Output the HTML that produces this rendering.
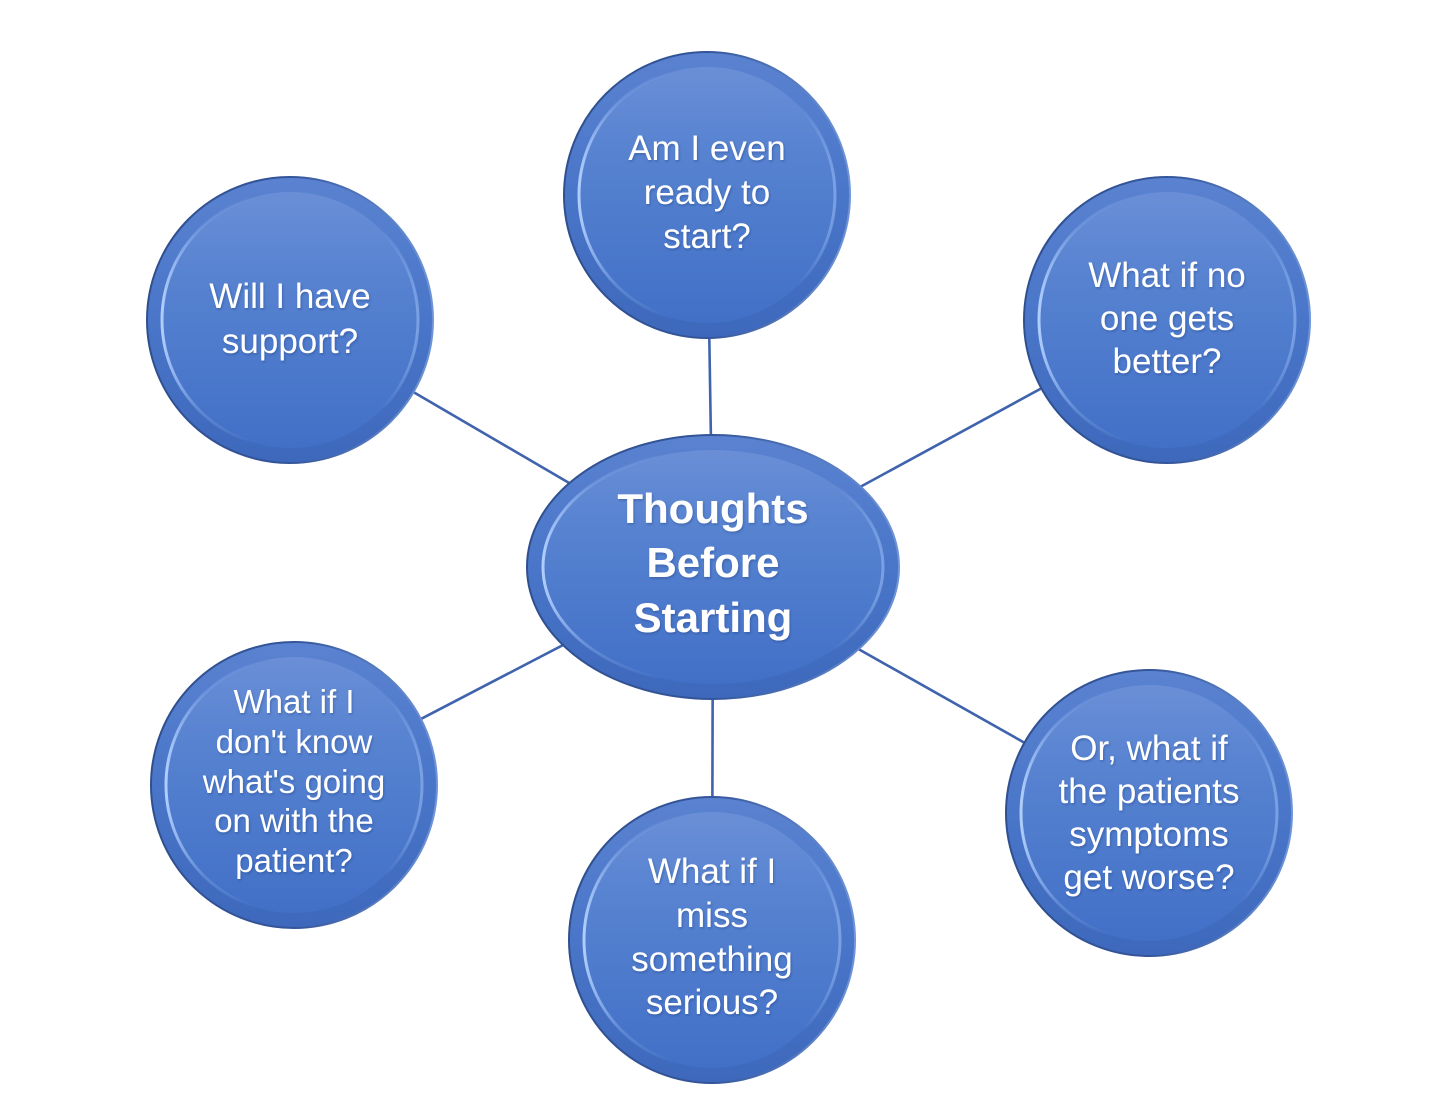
<!DOCTYPE html>
<html>
<head>
<meta charset="utf-8">
<style>
  html, body { margin: 0; padding: 0; background: #ffffff; }
  svg { display: block; }
  text { font-family: "Liberation Sans", Arial, sans-serif; fill: #ffffff; text-anchor: middle; }
</style>
</head>
<body>
<svg width="1430" height="1120" viewBox="0 0 1430 1120" xmlns="http://www.w3.org/2000/svg">
  <defs>
    <linearGradient id="outerG" x1="0" y1="0" x2="0" y2="1">
      <stop offset="0" stop-color="#5a82d0"/>
      <stop offset="0.5" stop-color="#4a76c9"/>
      <stop offset="1" stop-color="#3d68bb"/>
    </linearGradient>
    <linearGradient id="innerG" x1="0" y1="0" x2="0" y2="1">
      <stop offset="0" stop-color="#6a8fd7"/>
      <stop offset="0.35" stop-color="#5682d0"/>
      <stop offset="1" stop-color="#4270c7"/>
    </linearGradient>
    <linearGradient id="hlG" x1="0" y1="0" x2="1" y2="0">
      <stop offset="0" stop-color="#b4d2ff" stop-opacity="0.95"/>
      <stop offset="0.15" stop-color="#8cb0ee" stop-opacity="0.35"/>
      <stop offset="0.35" stop-color="#8cb0ee" stop-opacity="0"/>
      <stop offset="0.85" stop-color="#8cb0ee" stop-opacity="0"/>
      <stop offset="1" stop-color="#9cc0f5" stop-opacity="0.55"/>
    </linearGradient>
    <linearGradient id="edgeG" x1="0" y1="0" x2="1" y2="0">
      <stop offset="0" stop-color="#2f4f8e"/>
      <stop offset="0.5" stop-color="#34559a"/>
      <stop offset="1" stop-color="#6f95d8"/>
    </linearGradient>
    <filter id="ts" x="-10%" y="-10%" width="120%" height="130%">
      <feDropShadow dx="1" dy="1.5" stdDeviation="1" flood-color="#1d3570" flood-opacity="0.35"/>
    </filter>
  </defs>

  <!-- connectors -->
  <g stroke="#3f63ad" stroke-width="2.6" fill="none">
    <line x1="713" y1="567" x2="707" y2="195"/>
    <line x1="713" y1="567" x2="290" y2="320"/>
    <line x1="713" y1="567" x2="1167" y2="320"/>
    <line x1="713" y1="567" x2="294" y2="785"/>
    <line x1="713" y1="567" x2="712" y2="940"/>
    <line x1="713" y1="567" x2="1149" y2="813"/>
  </g>

  <!-- Top node -->
  <g>
    <circle cx="707" cy="195" r="143" fill="url(#outerG)" stroke="url(#edgeG)" stroke-width="2"/>
    <circle cx="707" cy="195" r="128" fill="url(#innerG)" stroke="url(#hlG)" stroke-width="3"/>
    <text font-size="35" filter="url(#ts)"><tspan x="707" y="160">Am I even</tspan><tspan x="707" y="204">ready to</tspan><tspan x="707" y="248">start?</tspan></text>
  </g>

  <!-- Top-left node -->
  <g>
    <circle cx="290" cy="320" r="143" fill="url(#outerG)" stroke="url(#edgeG)" stroke-width="2"/>
    <circle cx="290" cy="320" r="128" fill="url(#innerG)" stroke="url(#hlG)" stroke-width="3"/>
    <text font-size="35" filter="url(#ts)"><tspan x="290" y="308">Will I have</tspan><tspan x="290" y="353">support?</tspan></text>
  </g>

  <!-- Top-right node -->
  <g>
    <circle cx="1167" cy="320" r="143" fill="url(#outerG)" stroke="url(#edgeG)" stroke-width="2"/>
    <circle cx="1167" cy="320" r="128" fill="url(#innerG)" stroke="url(#hlG)" stroke-width="3"/>
    <text font-size="35" filter="url(#ts)"><tspan x="1167" y="287">What if no</tspan><tspan x="1167" y="330">one gets</tspan><tspan x="1167" y="373">better?</tspan></text>
  </g>

  <!-- Bottom-left node -->
  <g>
    <circle cx="294" cy="785" r="143" fill="url(#outerG)" stroke="url(#edgeG)" stroke-width="2"/>
    <circle cx="294" cy="785" r="128" fill="url(#innerG)" stroke="url(#hlG)" stroke-width="3"/>
    <text font-size="33" filter="url(#ts)"><tspan x="294" y="713">What if I</tspan><tspan x="294" y="753">don't know</tspan><tspan x="294" y="793">what's going</tspan><tspan x="294" y="832">on with the</tspan><tspan x="294" y="872">patient?</tspan></text>
  </g>

  <!-- Bottom node -->
  <g>
    <circle cx="712" cy="940" r="143" fill="url(#outerG)" stroke="url(#edgeG)" stroke-width="2"/>
    <circle cx="712" cy="940" r="128" fill="url(#innerG)" stroke="url(#hlG)" stroke-width="3"/>
    <text font-size="35" filter="url(#ts)"><tspan x="712" y="883">What if I</tspan><tspan x="712" y="927">miss</tspan><tspan x="712" y="971">something</tspan><tspan x="712" y="1014">serious?</tspan></text>
  </g>

  <!-- Bottom-right node -->
  <g>
    <circle cx="1149" cy="813" r="143" fill="url(#outerG)" stroke="url(#edgeG)" stroke-width="2"/>
    <circle cx="1149" cy="813" r="128" fill="url(#innerG)" stroke="url(#hlG)" stroke-width="3"/>
    <text font-size="35" filter="url(#ts)"><tspan x="1149" y="760">Or, what if</tspan><tspan x="1149" y="803">the patients</tspan><tspan x="1149" y="846">symptoms</tspan><tspan x="1149" y="889">get worse?</tspan></text>
  </g>

  <!-- Center ellipse -->
  <g>
    <ellipse cx="713" cy="567" rx="186" ry="132" fill="url(#outerG)" stroke="url(#edgeG)" stroke-width="2"/>
    <ellipse cx="713" cy="567" rx="170" ry="117" fill="url(#innerG)" stroke="url(#hlG)" stroke-width="3"/>
    <text font-size="42" font-weight="bold" filter="url(#ts)"><tspan x="713" y="523">Thoughts</tspan><tspan x="713" y="577">Before</tspan><tspan x="713" y="632">Starting</tspan></text>
  </g>
</svg>
</body>
</html>
